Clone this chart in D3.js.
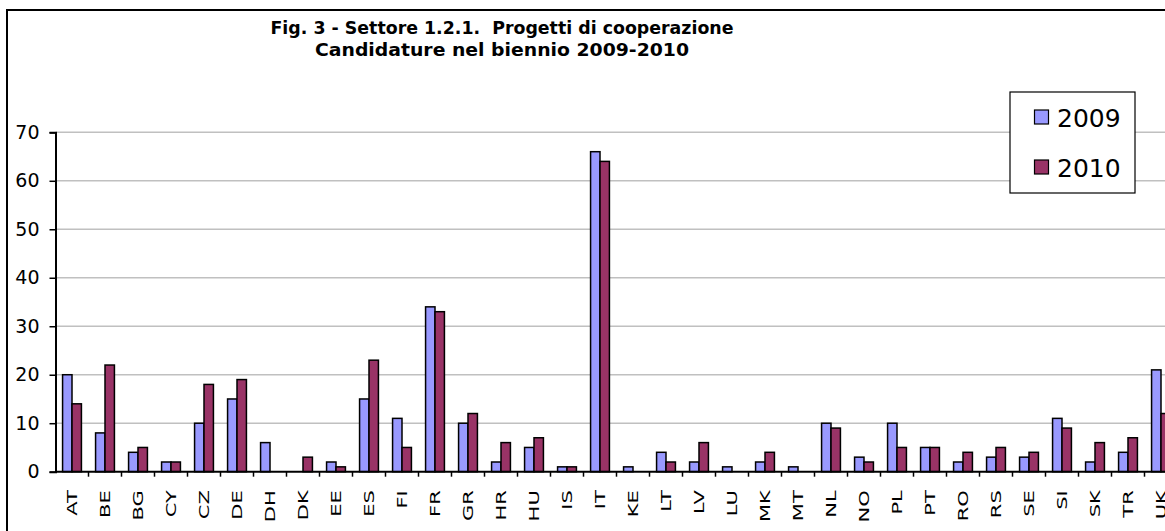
<!DOCTYPE html>
<html>
<head>
<meta charset="utf-8">
<script src="https://cdn.jsdelivr.net/npm/d3@7"></script>
<style>
    body { margin: 0; background: #fff; }
    svg { display: block; }
    text { font-family: 'DejaVu Sans', Verdana, sans-serif; fill: #000; }
</style>
</head>
<body>
<div id="vis"></div>
<script>
/* Fig. 3 - candidature 2009-2010 per paese, barre raggruppate */

// Paesi (categorie asse x)
var countries = ['AT', 'BE', 'BG', 'CY', 'CZ', 'DE', 'DH', 'DK', 'EE', 'ES', 'FI', 'FR', 'GR', 'HR', 'HU', 'IS', 'IT',
    'KE', 'LT', 'LV', 'LU', 'MK', 'MT', 'NL', 'NO', 'PL', 'PT', 'RO', 'RS', 'SE', 'SI', 'SK', 'TR', 'UK'];

// Valori per anno
var values2009 = [20, 8, 4, 2, 10, 15, 6, 0, 2, 15, 11, 34, 10, 2, 5, 1, 66,
    1, 4, 2, 1, 2, 1, 10, 3, 10, 5, 2, 3, 3, 11, 2, 4, 21];
var values2010 = [14, 22, 5, 2, 18, 19, 0, 3, 1, 23, 5, 33, 12, 6, 7, 1, 64,
    0, 2, 6, 0, 4, 0, 9, 2, 5, 5, 4, 5, 4, 9, 6, 7, 12];

// Serie, tick e titolo
var seriesNames = ['2009', '2010'];
var seriesColors = ['#9999FF', '#993366'];
var yTicks = [0, 10, 20, 30, 40, 50, 60, 70];
var titleLines = ['Fig. 3 - Settore 1.2.1.  Progetti di cooperazione', 'Candidature nel biennio 2009-2010'];

var totalWidth = 1165;
var totalHeight = 531;

// Area del grafico
var margin = { left: 55.5, top: 132.3 };
var width = 34 * 33;
var height = 339.4;

var svg = d3.select('#vis')
    .append('svg')
    .attr('width', totalWidth)
    .attr('height', totalHeight);

// Bordo esterno (tagliato a destra e in basso)
svg.append('rect')
    .attr('x', 7)
    .attr('y', 10)
    .attr('width', 1200)
    .attr('height', 600)
    .attr('fill', '#fff')
    .attr('stroke', '#000')
    .attr('stroke-width', 2);

var titleWidths = [463, 374];
svg.selectAll('.title')
    .data(titleLines)
    .enter().append('text')
    .attr('class', 'title')
    .attr('x', 502)
    .attr('y', function(d, i) { return 33.5 + i * 22; })
    .attr('text-anchor', 'middle')
    .attr('textLength', function(d, i) { return titleWidths[i]; })
    .attr('lengthAdjust', 'spacingAndGlyphs')
    .style('white-space', 'pre')
    .style('font-size', '17.5px')
    .style('font-weight', 'bold')
    .text(function(d) { return d; });

var g = svg.append('g')
    .attr('transform', 'translate(' + margin.left + ',' + margin.top + ')');

/* ********** Scale ********** */
var xScale = d3.scaleBand()
    .domain(countries)
    .range([0, width]);

var barWidth = xScale.bandwidth() / 3.5;

var xInner = d3.scaleBand()
    .domain(seriesNames)
    .range([xScale.bandwidth() / 2 - barWidth, xScale.bandwidth() / 2 + barWidth]);

var yScale = d3.scaleLinear()
    .domain([0, 70])
    .range([height, 0]);

/* ********** Griglia ********** */
g.append('g')
    .selectAll('line')
    .data(yTicks.filter(function(d) { return d > 0; }))
    .enter().append('line')
    .attr('x1', 0)
    .attr('x2', width)
    .attr('y1', function(d) { return yScale(d); })
    .attr('y2', function(d) { return yScale(d); })
    .attr('stroke', '#C0C0C0')
    .attr('stroke-width', 1.5);

/* ********** Barre ********** */
var groups = g.selectAll('.group')
    .data(countries)
    .enter().append('g')
    .attr('class', 'group')
    .attr('transform', function(d) { return 'translate(' + xScale(d) + ',0)'; });

groups.selectAll('rect')
    .data(function(d, i) {
        return [
            { name: seriesNames[0], value: values2009[i], color: seriesColors[0] },
            { name: seriesNames[1], value: values2010[i], color: seriesColors[1] }
        ];
    })
    .enter().append('rect')
    .filter(function(d) { return d.value > 0; })
    .attr('x', function(d) { return xInner(d.name); })
    .attr('y', function(d) { return yScale(d.value); })
    .attr('width', xInner.bandwidth())
    .attr('height', function(d) { return height - yScale(d.value); })
    .attr('fill', function(d) { return d.color; })
    .attr('stroke', '#000')
    .attr('stroke-width', 1.5);

/* ********** Assi ********** */
var yAxis = d3.axisLeft(yScale)
    .tickValues(yTicks)
    .tickSize(6)
    .tickPadding(10);

var yAxisG = g.append('g').call(yAxis);
yAxisG.select('.domain').attr('stroke', '#000').attr('stroke-width', 2);
yAxisG.selectAll('.tick line').attr('stroke', '#000').attr('stroke-width', 1.5);
yAxisG.selectAll('text')
    .style('font-size', '19px')
    .style('font-family', "'DejaVu Sans', Verdana, sans-serif")
    .attr('fill', '#000');

// Asse x: linea a zero e tick ai bordi delle categorie
var xAxisG = g.append('g')
    .attr('transform', 'translate(0,' + height + ')');

xAxisG.append('line')
    .attr('x1', 0)
    .attr('x2', width)
    .attr('stroke', '#000')
    .attr('stroke-width', 2);

xAxisG.selectAll('.xtick')
    .data(countries)
    .enter().append('line')
    .attr('class', 'xtick')
    .attr('x1', function(d) { return xScale(d) + xScale.bandwidth(); })
    .attr('x2', function(d) { return xScale(d) + xScale.bandwidth(); })
    .attr('y1', 0)
    .attr('y2', 5)
    .attr('stroke', '#000')
    .attr('stroke-width', 1.5);

// Etichette ruotate
xAxisG.selectAll('.xlabel')
    .data(countries)
    .enter().append('text')
    .attr('class', 'xlabel')
    .attr('transform', function(d) {
        return 'translate(' + (xScale(d) + xScale.bandwidth() / 2 + 5) + ',' + 18.5 + ') rotate(-90) scale(1.45,1)';
    })
    .attr('text-anchor', 'end')
    .style('font-size', '14.5px')
    .text(function(d) { return d; });

/* ********** Legenda ********** */
var legend = svg.append('g')
    .attr('transform', 'translate(1010,92)');

legend.append('rect')
    .attr('width', 125)
    .attr('height', 101)
    .attr('fill', '#fff')
    .attr('stroke', '#000')
    .attr('stroke-width', 1.2);

var items = legend.selectAll('.item')
    .data(seriesNames)
    .enter().append('g')
    .attr('class', 'item')
    .attr('transform', function(d, i) { return 'translate(0,' + (25 + i * 50) + ')'; });

items.append('rect')
    .attr('x', 24.5)
    .attr('y', -7)
    .attr('width', 14)
    .attr('height', 14)
    .attr('fill', function(d, i) { return seriesColors[i]; })
    .attr('stroke', '#000')
    .attr('stroke-width', 1.2);

items.append('text')
    .attr('x', 47)
    .attr('y', 9.5)
    .style('font-size', '25px')
    .text(function(d) { return d; });
</script>
</body>
</html>
